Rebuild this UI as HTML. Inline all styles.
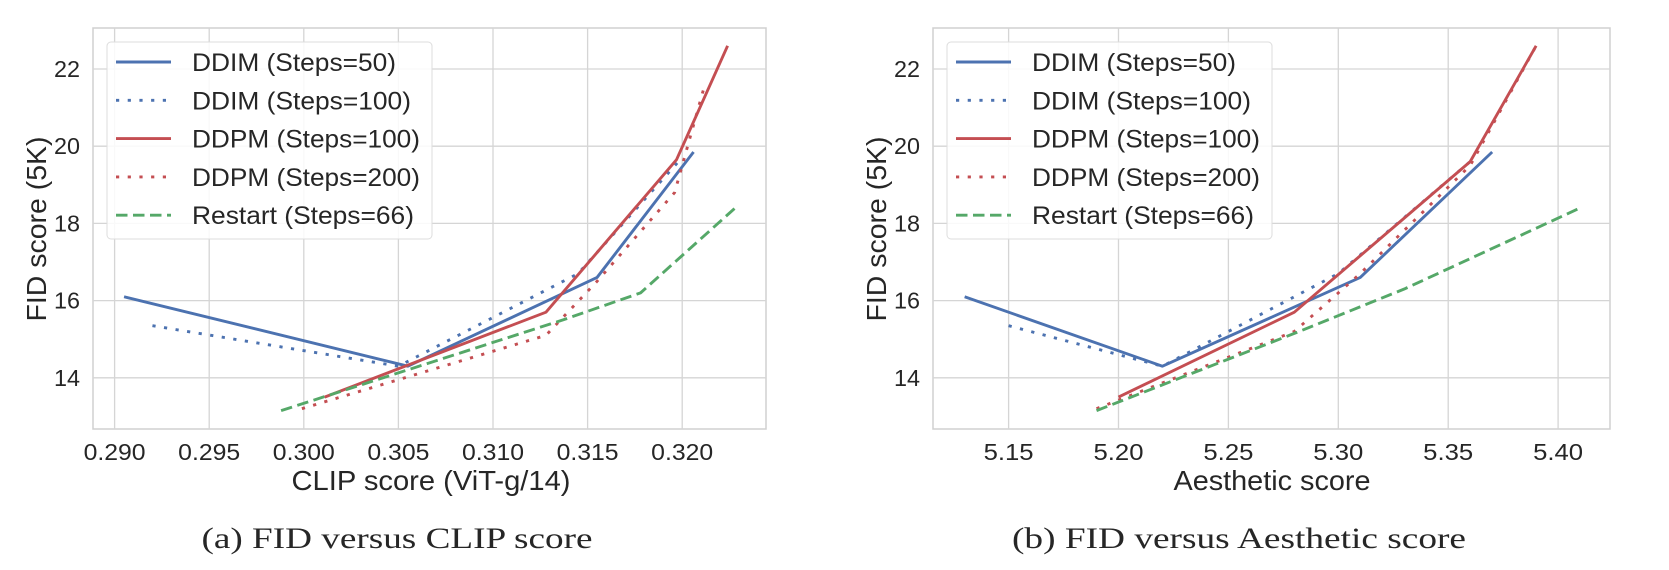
<!DOCTYPE html>
<html><head><meta charset="utf-8"><style>
body{margin:0;background:#fff;width:1669px;height:565px;overflow:hidden}
svg text{font-family:"Liberation Sans",sans-serif;fill:#262626}
</style></head><body>
<svg id="s" width="1669" height="565" xmlns="http://www.w3.org/2000/svg"></svg>
<script>
const S=document.getElementById('s');let h='';
const C={b:'#4C72B0',r:'#C44E52',g:'#55A868'};
const sty={solid:'',dot:'stroke-dasharray="3.2 8.5"',dash:'stroke-dasharray="11.5 5.5"'};
function T(x,y,fs,len,txt,anchor,extra){return `<text x="${x}" y="${y}" font-size="${fs}" text-anchor="${anchor||'start'}" textLength="${len}" lengthAdjust="spacingAndGlyphs" ${extra||''}>${txt}</text>`}
function plot(P){
 const X=v=>P.x0+(v-P.xv0)*P.xs, Y=v=>69+(22-v)*38.6;
 h+=`<rect x="${P.l}" y="28" width="${P.r-P.l}" height="401" fill="#fff" stroke="#d0d0d0" stroke-width="1.5"/>`;
 P.xt.forEach(t=>{const x=X(t);h+=`<line x1="${x}" y1="28" x2="${x}" y2="429" stroke="#d5d5d5" stroke-width="1.3"/>`+T(x,460,23,P.tw,t.toFixed(P.d),'middle')});
 [14,16,18,20,22].forEach(t=>{const y=Y(t);h+=`<line x1="${P.l}" y1="${y}" x2="${P.r}" y2="${y}" stroke="#d5d5d5" stroke-width="1.3"/>`+T(P.l-13,y+8,23,26,t,'end')});
 P.s.forEach(s=>{h+=`<polyline fill="none" stroke="${C[s[0]]}" stroke-width="2.9" stroke-linejoin="round" ${sty[s[1]]} points="${s[2].map(p=>X(p[0])+','+Y(p[1])).join(' ')}"/>`});
 const lx=P.lx;h+=`<rect x="${lx}" y="42" width="325" height="197" rx="4" fill="#fff" fill-opacity="0.85" stroke="#ddd"/>`;
 const L=[['b','solid','DDIM (Steps=50)',204],['b','dot','DDIM (Steps=100)',219],['r','solid','DDPM (Steps=100)',228],['r','dot','DDPM (Steps=200)',228],['g','dash','Restart (Steps=66)',222]];
 L.forEach((e,i)=>{const y=62+i*38.3;h+=`<line x1="${lx+9}" y1="${y}" x2="${lx+64}" y2="${y}" stroke="${C[e[0]]}" stroke-width="2.9" ${sty[e[1]]}/>`+T(lx+85,y+9,25,e[3],e[2])});
 h+=T(P.yl,229,28,185,'FID score (5K)','middle',`transform="rotate(-90 ${P.yl} 229)"`);
 h+=T(P.xlc,490,28,P.xlw,P.xl,'middle');
 h+=T(P.capc,548,30,P.capw,P.cap,'middle','style="font-family:\'Liberation Serif\',serif"');
}
plot({l:93,r:766,x0:114.6,xv0:0.290,xs:94.6/0.005,d:3,tw:62,xt:[0.290,0.295,0.300,0.305,0.310,0.315,0.320],lx:107,yl:46,xl:'CLIP score (ViT-g/14)',xlc:431,xlw:279,cap:'(a) FID versus CLIP score',capc:397,capw:391,
s:[['b','solid',[[0.2905,16.1],[0.3055,14.3],[0.3155,16.6],[0.3206,19.85]]],
['b','dot',[[0.292,15.35],[0.305,14.3],[0.3145,16.7],[0.3198,19.6]]],
['r','solid',[[0.3011,13.5],[0.3128,15.7],[0.3197,19.65],[0.3224,22.6]]],
['r','dot',[[0.2999,13.2],[0.3128,15.1],[0.3155,16.5],[0.3196,18.8],[0.3212,21.6]]],
['g','dash',[[0.2988,13.15],[0.3137,15.5],[0.3178,16.2],[0.3228,18.4]]]]});
plot({l:933,r:1610,x0:1008.6,xv0:5.15,xs:109.9/0.05,d:2,tw:50,xt:[5.15,5.20,5.25,5.30,5.35,5.40],lx:947,yl:886,xl:'Aesthetic score',xlc:1272,xlw:197,cap:'(b) FID versus Aesthetic score',capc:1239,capw:454,
s:[['b','solid',[[5.13,16.1],[5.22,14.3],[5.31,16.6],[5.37,19.85]]],
['b','dot',[[5.15,15.35],[5.22,14.3],[5.30,16.7],[5.36,19.6]]],
['r','solid',[[5.20,13.5],[5.28,15.7],[5.36,19.6],[5.39,22.6]]],
['r','dot',[[5.19,13.2],[5.28,15.2],[5.31,16.7],[5.36,19.5],[5.39,22.6]]],
['g','dash',[[5.19,13.15],[5.28,15.15],[5.33,16.3],[5.41,18.4]]]]});
S.innerHTML=h;
</script>
</body></html>
